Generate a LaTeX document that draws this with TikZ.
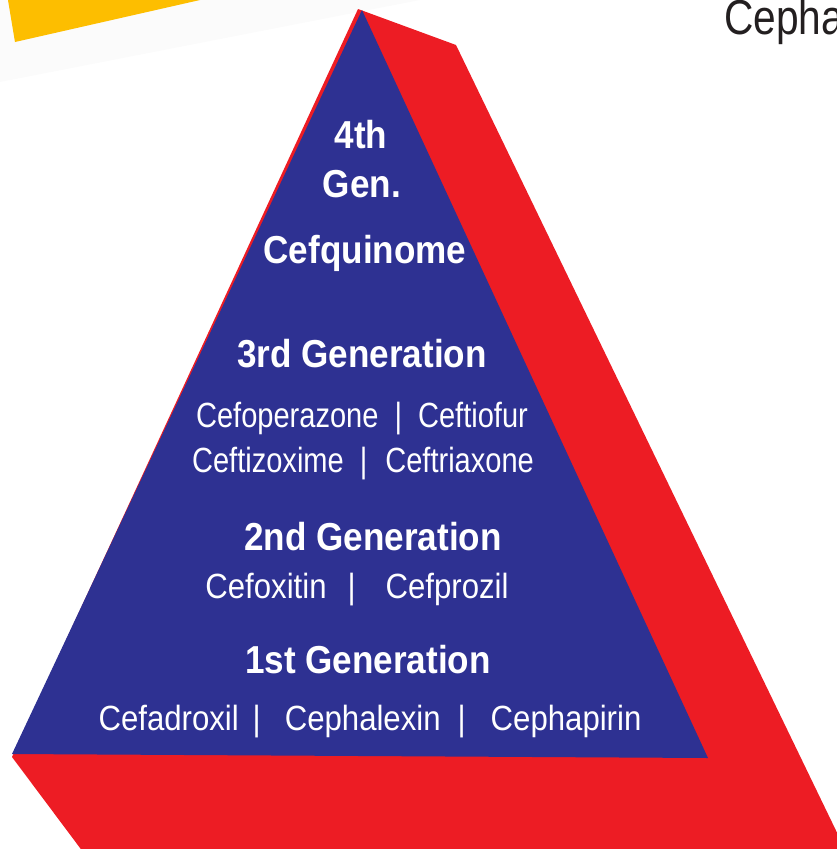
\documentclass[tikz,border=0pt]{standalone}
\usepackage{fontspec}
\setmainfont{Liberation Sans}
\newfontfamily\genbold{Liberation Sans}[FakeStretch=0.9]
\newfontfamily\gennarrow{Liberation Sans}[FakeStretch=0.83]
\newfontfamily\genwide{Liberation Sans}[FakeStretch=0.89]
\usepackage{xcolor}
\definecolor{pyrblue}{RGB}{46, 49, 146}
\definecolor{pyrred}{RGB}{237, 28, 36}
\definecolor{pyryellow}{RGB}{253, 190, 0}
\definecolor{titlegray}{RGB}{35, 31, 32}

\begin{document}
\begin{tikzpicture}[x=1pt, y=-1pt,
    genhead/.style={white, anchor=base, inner sep=0pt, font=\genbold\fontsize{39}{42}\selectfont\bfseries},
    genlist/.style={white, anchor=base, inner sep=0pt, font=\gennarrow\fontsize{35}{38}\selectfont},
    genlistwide/.style={genlist, font=\genwide\fontsize{35}{38}\selectfont}]
                \useasboundingbox (0,0) rectangle (837,849);
                \clip (0,0) rectangle (837,849);

                % Corner decoration
                \fill[black!1.5] (0,0) -- (420,0) -- (0,82) -- cycle;
                \fill[pyryellow] (8,0) -- (15,42) -- (200,0) -- cycle;
                \node[titlegray, anchor=base west, inner sep=0pt,
                      font=\gennarrow\fontsize{49}{52}\selectfont] (title) at (724,34) {Cepha};

                % Pyramid (red side, blue face)
                \fill[pyrred] (358,9) -- (456,45) -- (858,876) -- (101,876) -- (12,757) -- cycle;
                \fill[pyrblue] (362,10) -- (708,758) -- (12,754) -- cycle;

                % 4th generation
                \node[genhead] (g4a) at (361,148) {4th};
                \node[genhead] (g4b) at (362,197) {Gen.};
                \node[genhead] (g4drug) at (365,263) {Cefquinome};

                % 3rd generation
                \node[genhead] (g3) at (362,367) {3rd Generation};
                \node[genlist] (g3drugA) at (362,427) {Cefoperazone\hspace{16pt}|\hspace{16pt}Ceftiofur};
                \node[genlist] (g3drugB) at (363,472) {Ceftizoxime\hspace{16pt}|\hspace{18pt}Ceftriaxone};

                % 2nd generation
                \node[genhead] (g2) at (373,550) {2nd Generation};
                \node[genlistwide] (g2drug) at (357,598) {Cefoxitin\hspace{21pt}|\hspace{30pt}Cefprozil};

                % 1st generation
                \node[genhead] (g1) at (368,673) {1st Generation};
                \node[genlistwide] (g1drug) at (370,730) {Cefadroxil\hspace{14pt}|\hspace{24pt}Cephalexin\hspace{17pt}|\hspace{25pt}Cephapirin};
            \end{tikzpicture}
\end{document}
